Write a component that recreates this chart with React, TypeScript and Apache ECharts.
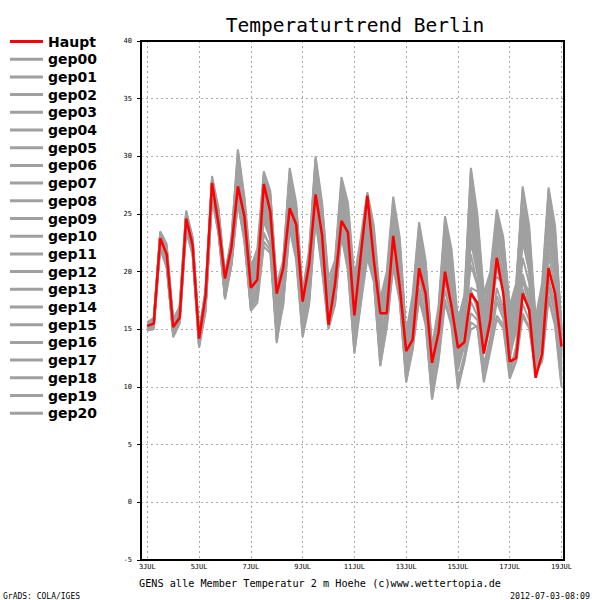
import React, { useEffect, useRef } from "react";
import * as echarts from "echarts";

const tickLabels = ["3JUL", "5JUL", "7JUL", "9JUL", "11JUL", "13JUL", "15JUL", "17JUL", "19JUL"];
const yTicks = [-5, 0, 5, 10, 15, 20, 25, 30, 35, 40];

// 6-hourly values, 3JUL 00 .. 19JUL 00
const haupt = [15.3,15.5,22.9,21.5, 15.2,16.0,24.6,22.3, 14.2,17.9,27.7,24.1, 19.4,22.1,27.4,24.8, 18.6,19.3,27.6,25.2, 18.1,20.3,25.5,24.1, 17.4,20.6,26.7,23.2, 15.4,18.9,24.4,23.4, 16.2,21.5,26.6,21.0, 16.4,16.4,23.1,18.7, 13.1,14.1,20.3,18.1, 12.1,14.7,20.0,17.0, 13.4,13.9,18.1,17.3, 12.9,15.8,21.2,18.1, 12.2,12.5,18.1,16.7, 10.8,12.9,20.3,18.1, 13.5];

const gep00 = [15.2,15.6,23.0,21.3, 15.0,16.2,24.8,22.5, 14.0,17.6,27.4,24.3, 19.0,21.8,27.9,25.1, 18.2,19.6,27.0,25.0, 17.8,20.1,25.9,23.8, 17.0,20.4,27.1,23.5, 16.0,18.6,24.9,22.8, 16.6,21.0,25.5,21.6, 15.8,17.4,22.6,19.4, 13.6,15.2,21.4,18.9, 12.8,15.4,20.9,18.2, 13.9,15.7,20.6,18.8, 14.2,16.8,21.4,19.2, 13.1,15.0,19.8,17.7, 12.4,14.6,22.1,19.6, 14.0];
const gep01 = [15.4,15.8,22.6,20.9, 15.3,16.6,24.1,22.0, 14.4,17.1,27.0,23.8, 18.5,21.2,29.6,26.0, 19.1,20.8,28.3,26.2, 16.9,19.4,28.1,25.2, 16.2,19.8,29.2,25.3, 17.1,19.7,26.0,23.1, 15.2,19.5,24.2,20.3, 13.6,16.8,24.9,21.7, 12.1,15.9,22.6,19.4, 11.0,14.2,23.5,20.8, 14.6,17.1,27.3,23.1, 16.2,18.4,23.9,21.2, 14.8,17.2,25.6,22.3, 14.6,17.9,25.7,22.4, 14.5];
const gep02 = [15.0,15.3,22.3,20.5, 14.6,15.8,23.8,21.7, 13.6,16.8,26.5,23.5, 17.9,20.7,26.3,23.0, 17.3,18.1,23.4,22.1, 15.2,17.6,24.6,22.3, 15.5,18.4,25.8,21.7, 15.3,17.3,23.6,20.8, 14.1,17.8,22.0,19.4, 12.6,15.3,21.0,18.3, 11.2,13.8,18.6,16.4, 10.2,12.9,19.2,16.8, 11.8,13.6,17.4,16.2, 12.0,14.1,18.6,16.8, 11.6,13.2,18.5,16.6, 11.9,13.5,19.4,17.2, 11.3];
const gep03 = [15.6,15.9,23.3,21.9, 15.5,16.9,25.1,22.8, 14.6,18.3,28.1,25.2, 19.6,22.8,30.4,26.3, 20.2,21.5,28.5,26.8, 18.6,20.8,28.7,25.7, 18.0,21.6,29.8,25.8, 18.8,20.5,27.6,25.4, 18.9,22.6,26.5,23.6, 17.2,19.6,26.2,22.6, 14.3,17.6,24.0,20.7, 13.2,16.6,24.4,21.5, 15.4,17.6,28.8,24.6, 17.8,19.6,25.0,22.7, 16.6,18.7,27.1,23.5, 15.7,18.4,27.0,23.6, 15.0];
const gep04 = [15.1,15.5,22.8,21.6, 15.1,16.3,24.4,22.1, 14.1,17.4,27.2,24.0, 18.8,21.5,28.4,24.8, 18.0,19.2,26.0,24.0, 17.2,19.0,27.0,24.3, 16.6,19.3,28.0,23.9, 16.9,18.8,26.3,23.7, 17.5,20.6,24.3,21.8, 14.8,16.5,23.6,20.4, 13.0,15.8,21.7,18.6, 12.0,14.8,22.6,19.4, 13.2,15.2,24.3,20.6, 13.5,15.9,22.3,19.8, 12.3,15.6,24.1,20.9, 13.8,16.1,23.5,20.4, 12.8];
const gep05 = [15.3,15.7,23.2,21.0, 14.9,16.5,24.9,22.6, 13.8,17.8,27.6,24.9, 18.2,21.0,27.0,23.6, 17.0,18.6,25.2,23.4, 15.9,18.4,26.3,23.1, 15.1,18.0,26.6,22.5, 15.6,18.0,25.2,22.0, 13.4,18.3,23.3,20.8, 13.2,16.0,22.0,19.7, 11.6,14.6,20.4,17.8, 10.8,13.9,21.7,18.7, 12.5,14.4,22.6,19.8, 15.0,17.2,24.6,21.9, 13.8,16.0,22.6,20.1, 12.9,15.2,24.7,21.6, 13.6];
const gep06 = [15.5,15.9,22.1,20.4, 15.2,16.0,23.6,21.6, 14.3,16.6,26.4,23.4, 17.7,20.6,26.1,22.7, 16.6,17.3,22.2,21.6, 14.0,17.2,23.8,21.3, 14.5,17.3,24.6,20.4, 15.1,17.5,23.3,20.2, 13.0,17.2,21.2,19.1, 11.9,15.1,20.4,17.4, 10.5,13.2,17.8,15.4, 9.0,12.2,17.3,15.3, 9.8,12.3,15.0,15.3, 10.6,13.4,16.2,15.4, 10.9,12.4,16.4,15.2, 11.4,12.3,17.9,15.6, 10.2];
const gep07 = [15.2,15.4,22.9,21.8, 15.6,16.8,25.2,22.9, 14.7,18.1,27.9,25.4, 19.4,22.6,29.1,25.6, 19.6,20.9,27.6,25.8, 18.3,20.5,27.5,24.9, 17.5,21.1,28.7,24.6, 16.4,19.2,27.0,24.9, 17.9,21.7,26.1,23.2, 16.5,19.0,25.6,22.1, 13.8,17.1,23.3,20.1, 12.7,16.1,23.9,20.9, 15.1,17.4,26.2,22.4, 16.8,19.2,24.3,22.1, 15.4,18.1,26.6,22.9, 15.2,18.5,26.4,23.1, 14.8];
const gep08 = [14.9,15.2,22.4,20.7, 14.4,15.6,23.9,21.8, 13.5,17.0,26.7,23.6, 18.1,20.9,27.4,24.0, 17.6,18.4,24.4,22.8, 13.8,17.8,25.3,22.6, 15.9,18.7,25.1,21.2, 16.4,18.1,24.0,21.4, 14.6,18.0,22.6,20.1, 14.2,16.2,21.5,18.6, 12.4,14.1,19.3,17.1, 11.5,13.5,20.3,17.9, 15.5,16.8,18.6,18.3, 18.1,18.4,19.6,18.8, 16.9,17.2,19.0,18.4, 12.6,14.2,20.5,18.0, 12.0];
const gep09 = [15.4,15.6,23.4,22.2, 15.4,16.7,24.7,22.4, 14.5,17.5,27.5,24.6, 19.2,22.2,28.8,25.4, 18.8,20.3,27.2,25.6, 17.5,19.7,26.6,23.9, 16.8,20.0,27.8,24.2, 17.7,19.9,26.8,24.4, 16.2,20.2,25.1,22.3, 15.4,18.2,24.4,21.2, 12.8,16.4,22.9,19.8, 12.3,15.7,21.9,19.6, 13.6,16.2,23.6,21.0, 14.6,16.4,22.8,20.6, 14.2,16.9,23.6,21.4, 14.1,16.7,25.1,21.9, 13.9];
const gep10 = [15.0,15.5,22.0,20.3, 14.8,15.9,23.6,21.5, 13.7,16.9,26.3,23.3, 17.6,20.5,25.9,22.6, 16.8,17.6,22.6,21.9, 14.4,17.1,23.7,21.0, 14.3,17.1,24.5,20.1, 15.0,17.1,23.1,20.1, 12.9,17.6,21.6,19.3, 11.8,15.4,20.7,17.6, 10.4,13.4,17.6,15.5, 8.9,12.5,17.6,15.6, 10.1,12.2,15.6,15.2, 10.4,13.1,15.9,15.1, 10.7,12.2,16.1,15.1, 11.3,12.2,17.6,15.3, 10.0];
const gep11 = [15.3,15.8,23.1,21.4, 15.1,16.4,24.3,22.2, 14.2,17.7,27.3,24.5, 18.9,21.9,28.1,24.6, 18.4,19.9,26.5,24.7, 16.5,19.2,27.3,24.6, 16.0,19.5,27.4,23.8, 16.2,18.4,25.6,22.5, 15.8,19.8,24.6,21.4, 15.1,17.8,23.2,20.6, 12.6,15.4,21.0,18.2, 11.8,15.0,22.2,19.0, 14.2,16.6,25.4,21.8, 15.6,17.6,23.5,20.9, 13.6,15.7,22.9,20.0, 13.2,15.5,22.8,20.2, 13.1];
const gep12 = [15.5,15.9,23.5,22.4, 15.8,17.0,25.3,23.0, 14.8,18.4,28.3,25.5, 19.8,23.0,30.6,26.5, 20.4,22.0,28.7,27.0, 18.9,21.0,29.0,26.0, 18.3,21.9,30.0,26.0, 19.4,21.0,28.2,26.0, 19.5,23.0,26.9,24.0, 17.6,20.0,26.5,23.0, 14.7,18.0,24.3,21.0, 13.5,17.0,24.8,22.0, 15.8,18.0,29.0,25.0, 18.1,20.0,25.4,23.0, 17.0,19.0,27.4,24.0, 16.0,19.0,27.3,24.0, 15.2];
const gep13 = [14.9,15.0,22.2,20.6, 14.3,15.5,23.5,21.5, 13.4,16.5,26.6,23.7, 17.8,20.8,26.8,23.4, 17.4,18.8,24.8,23.1, 16.3,18.8,25.8,22.8, 15.3,17.9,26.2,22.1, 15.8,17.8,24.4,21.2, 14.2,18.6,23.6,20.5, 12.9,15.8,22.3,19.1, 11.9,14.4,20.1,17.4, 10.5,13.4,20.6,18.2, 12.2,14.1,21.5,18.9, 13.0,15.3,20.4,18.5, 12.8,14.8,21.2,19.0, 12.2,14.5,21.4,18.8, 12.5];
const gep14 = [15.6,16.0,22.7,21.1, 15.9,16.9,24.6,22.7, 14.4,18.5,28.0,25.0, 19.3,22.4,29.3,25.9, 19.9,21.2,28.0,26.4, 18.0,20.3,28.3,25.4, 17.7,21.3,29.5,25.5, 18.1,20.2,27.3,25.0, 18.2,22.2,25.8,22.9, 16.9,19.3,25.7,22.4, 14.1,17.5,23.7,20.4, 12.9,16.4,23.2,21.2, 14.9,16.9,27.9,23.8, 17.2,19.1,24.7,22.4, 16.0,18.4,25.0,22.5, 15.5,17.6,26.0,23.0, 14.6];
const gep15 = [15.1,15.6,22.5,21.2, 15.0,16.1,24.0,21.9, 14.0,17.3,26.9,24.2, 18.6,21.4,27.7,24.3, 18.6,19.0,25.6,24.3, 17.0,18.6,26.9,24.1, 16.4,18.8,27.0,23.1, 16.6,18.9,25.9,23.3, 15.5,19.1,23.8,21.1, 14.4,16.9,22.9,20.1, 13.2,15.6,21.1,18.4, 11.3,14.6,21.3,18.6, 13.0,15.0,23.1,20.3, 14.0,16.1,22.0,19.7, 13.3,15.9,23.1,20.6, 13.6,15.9,24.2,21.1, 13.2];
const gep16 = [15.4,15.7,22.6,20.8, 14.7,16.2,24.2,22.1, 13.9,17.2,27.1,24.1, 18.4,21.3,26.6,23.3, 17.8,19.4,25.8,23.7, 15.6,18.2,25.1,22.0, 15.7,18.2,25.4,21.9, 16.7,18.3,24.6,22.3, 15.9,19.3,23.0,20.7, 13.9,16.6,23.1,19.9, 12.2,14.9,19.8,17.2, 10.0,13.1,19.9,17.6, 11.5,13.7,18.4,16.8, 11.8,14.4,17.9,16.4, 11.2,13.6,19.3,17.1, 12.0,13.8,18.8,16.6, 11.6];
const gep17 = [15.2,15.9,23.0,22.0, 15.5,16.6,25.0,22.7, 14.6,18.0,27.8,25.1, 19.7,22.5,30.0,26.1, 19.3,20.5,28.1,26.6, 18.7,20.8,28.4,25.5, 17.3,20.9,29.1,25.1, 18.4,20.6,27.8,25.6, 18.6,22.0,26.2,23.4, 16.3,18.7,25.1,21.8, 14.5,17.3,23.0,20.2, 13.0,16.3,24.1,21.4, 14.3,16.8,26.6,22.7, 16.4,18.6,24.9,22.6, 16.3,18.7,26.9,23.2, 14.9,17.1,26.6,23.4, 14.2];
const gep18 = [15.3,15.5,22.7,21.0, 15.2,16.1,24.5,22.3, 14.2,17.6,27.0,24.4, 18.7,21.6,27.5,24.2, 18.1,19.8,26.3,24.5, 17.4,19.5,26.5,23.4, 16.5,19.1,27.7,23.6, 17.3,19.1,26.5,23.9, 17.0,20.9,25.0,22.0, 15.5,17.5,23.9,21.0, 13.4,16.1,22.1,19.1, 12.4,15.6,22.9,20.2, 13.4,15.5,24.9,21.5, 15.3,17.5,23.2,21.4, 14.4,17.0,24.6,21.8, 14.4,16.9,23.8,21.4, 13.7];
const gep19 = [15.5,15.8,23.4,21.7, 15.6,16.4,24.8,22.4, 14.3,17.9,27.7,24.7, 19.1,22.0,28.6,25.3, 19.0,19.5,27.3,25.3, 17.9,19.9,27.9,24.7, 16.7,20.2,28.4,24.4, 17.9,19.5,26.7,24.2, 16.9,21.5,25.6,22.5, 16.0,18.4,24.6,21.4, 13.7,16.8,22.5,19.6, 12.2,15.8,22.0,19.9, 14.4,16.4,23.8,20.5, 15.8,17.9,23.6,21.6, 15.1,17.6,25.1,22.0, 14.7,17.3,24.5,21.8, 14.4];
const gep20 = [15.0,15.4,22.1,20.6, 14.5,15.7,23.7,21.7, 13.6,16.7,26.4,23.5, 17.9,20.7,26.4,22.9, 16.9,17.9,23.2,22.3, 14.9,17.4,24.2,21.7, 14.8,17.6,25.0,20.8, 15.4,17.2,23.9,20.6, 13.6,17.4,22.3,19.8, 12.3,15.6,21.3,18.0, 10.9,13.6,18.3,16.0, 9.6,12.8,18.4,16.2, 10.6,12.8,16.4,15.8, 11.3,13.8,17.4,15.9, 11.4,12.9,17.2,15.8, 11.6,12.8,18.6,16.3, 10.7];

const memberNames = ["gep00","gep01","gep02","gep03","gep04","gep05","gep06","gep07","gep08","gep09","gep10","gep11","gep12","gep13","gep14","gep15","gep16","gep17","gep18","gep19","gep20"];
const members = [gep00,gep01,gep02,gep03,gep04,gep05,gep06,gep07,gep08,gep09,gep10,gep11,gep12,gep13,gep14,gep15,gep16,gep17,gep18,gep19,gep20];

const titleText = "Temperaturtrend Berlin";
const footerText = "GENS alle Member Temperatur 2 m Hoehe (c)www.wettertopia.de";
const creditText = "GrADS: COLA/IGES";
const dateText = "2012-07-03-08:09";

const MONO = "'DejaVu Sans Mono', monospace";
const GRAY = "#a0a0a0";
const RED = "#ff0000";
const GRID_LINE = { color: "#aaaaaa", width: 1, type: [2, 3] as number[] };

export default function App() {
  const ref = useRef<HTMLDivElement>(null);
  useEffect(() => {
    if (!ref.current) return;
    const chart = echarts.init(ref.current, null, { renderer: "svg" });
    const toPairs = (arr: number[]) => arr.map((v, i) => [i / 4, v]);
    const series: any[] = members.map((m, k) => ({
      name: memberNames[k],
      type: "line",
      xAxisIndex: 1,
      yAxisIndex: 1,
      data: toPairs(m),
      symbol: "none",
      showSymbol: false,
      color: GRAY,
      lineStyle: { width: 2, color: GRAY },
      z: 2,
      silent: true,
    }));
    series.push({
      name: "Haupt",
      type: "line",
      xAxisIndex: 1,
      yAxisIndex: 1,
      data: toPairs(haupt),
      symbol: "none",
      showSymbol: false,
      color: RED,
      lineStyle: { width: 2.5, color: RED },
      z: 3,
      silent: true,
    });

    chart.setOption({
      animation: false,
      backgroundColor: "#ffffff",
      grid: [
        { left: 141, right: 36, top: 41, bottom: 40, show: true, borderColor: "#000", borderWidth: 2, backgroundColor: "transparent", z: 5 },
        { left: 147.3, right: 38.5, top: 41, bottom: 40 },
      ],
      xAxis: [
        { gridIndex: 0, type: "value", min: 0, max: 1, show: false },
        {
          gridIndex: 1,
          type: "value",
          min: 0,
          max: 16,
          interval: 2,
          axisLine: { show: false },
          axisTick: { show: false },
          axisLabel: {
            margin: 3,
            fontFamily: MONO,
            fontSize: 7,
            color: "#000",
            formatter: (v: number) => tickLabels[Math.round(v / 2)] ?? "",
          },
          splitLine: { show: true, lineStyle: GRID_LINE },
        },
      ],
      yAxis: [
        {
          gridIndex: 0,
          type: "value",
          min: yTicks[0],
          max: yTicks[yTicks.length - 1],
          interval: 5,
          axisLine: { show: false },
          axisTick: { show: true, length: 4, inside: false, lineStyle: { color: "#000", width: 1 } },
          axisLabel: { margin: 9, fontFamily: MONO, fontSize: 7, color: "#000" },
          splitLine: { show: true, lineStyle: GRID_LINE },
        },
        { gridIndex: 1, type: "value", min: -5, max: 40, show: false },
      ],
      legend: {
        orient: "vertical",
        left: 10,
        top: 34.5,
        padding: 0,
        itemWidth: 33,
        itemHeight: 3,
        itemGap: 3.7,
        icon: "rect",
        selectedMode: false,
        data: ["Haupt", ...memberNames],
        textStyle: { fontFamily: "'DejaVu Sans', sans-serif", fontWeight: "bold", fontSize: 14, lineHeight: 14, color: "#000" },
      },
      graphic: [
        { type: "text", x: 355, y: 25, style: { text: titleText, font: `normal 19.5px ${MONO}`, fill: "#000", align: "center", verticalAlign: "middle" } },
        { type: "text", x: 320, y: 583, style: { text: footerText, font: `normal 10.2px ${MONO}`, fill: "#000", align: "center", verticalAlign: "middle" } },
        { type: "text", x: 3, y: 596, style: { text: creditText, font: `normal 8px ${MONO}`, fill: "#000", align: "left", verticalAlign: "middle" } },
        { type: "text", x: 590, y: 596, style: { text: dateText, font: `normal 8.3px ${MONO}`, fill: "#000", align: "right", verticalAlign: "middle" } },
      ],
      series,
    });
    return () => chart.dispose();
  }, []);
  return <div ref={ref} style={{ position: "fixed", left: 0, top: 0, width: 600, height: 600, background: "#fff" }} />;
}
